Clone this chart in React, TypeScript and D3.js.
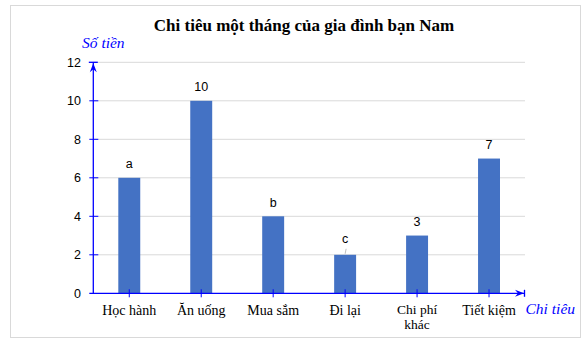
import React from "react";
import * as d3 from "d3";

const categories = ["Học hành", "Ăn uống", "Mua sắm", "Đi lại", "Chi phí khác", "Tiết kiệm"];
const values = [6, 10, 4, 2, 3, 7];
const dataLabels = ["a", "10", "b", "c", "3", "7"];
const yTicks = [0, 2, 4, 6, 8, 10, 12];
const title = "Chi tiêu một tháng của gia đình bạn Nam";
const yTitle = "Số tiền";
const xTitle = "Chi tiêu";

const W = 588, H = 346;
const left = 93.3, right = 525, top = 62.3, bottom = 293.3;
const blue = "#0000ff";

export default function App() {
  const x = d3.scaleBand<string>().domain(categories).range([left, right]).paddingInner(0).paddingOuter(0);
  const y = d3.scaleLinear().domain([0, 12]).range([bottom, top]);
  const barW = x.bandwidth() * 0.305;
  const serif = "'Liberation Serif', 'Times New Roman', serif";
  const sans = "'Liberation Sans', Arial, sans-serif";
  return (
    <svg width={W} height={H} style={{ position: "absolute", left: 0, top: 0 }}>
      <rect x={0} y={0} width={W} height={H} fill="#fff" />
      <rect x={10.5} y={5.5} width={570} height={332} fill="#fff" stroke="#d9d9d9" />
      <text x={304} y={31} textAnchor="middle" fontFamily={serif} fontWeight="bold" fontSize={17} fill="#000">{title}</text>
      {yTicks.filter(t => t > 0).map(t => (
        <line key={t} x1={left} x2={right} y1={y(t)} y2={y(t)} stroke="#d9d9d9" strokeWidth={1} />
      ))}
      {categories.map((c, i) => {
        const cx = x(c)! + x.bandwidth() / 2;
        return (
          <g key={c}>
            <rect x={cx - barW / 2} y={y(values[i])} width={barW} height={bottom - y(values[i])} fill="#4472c4" />
          </g>
        );
      })}
      {/* y axis */}
      <line x1={left} x2={left} y1={bottom} y2={top} stroke={blue} strokeWidth={1.3} />
      <line x1={left - 4.5} x2={left + 4.5} y1={top} y2={top} stroke={blue} strokeWidth={1.3} />
      <path d={`M${left},${top + 1} L${left - 3.5},${top + 10} L${left},${top + 7} L${left + 3.5},${top + 10} Z`} fill={blue} />
      {yTicks.map(t => (
        <g key={t}>
          {t > 0 && t < 12 && <line x1={left - 4} x2={left + 5} y1={y(t)} y2={y(t)} stroke={blue} strokeWidth={1} />}
          <text x={81} y={y(t) + 4.5} textAnchor="end" fontFamily={sans} fontSize={12.5} fill="#000">{t}</text>
        </g>
      ))}
      {/* x axis */}
      <line x1={left - 4} x2={right} y1={bottom} y2={bottom} stroke={blue} strokeWidth={1.3} />
      <line x1={right - 0.5} x2={right - 0.5} y1={bottom - 3.5} y2={bottom + 3.5} stroke={blue} strokeWidth={1.3} />
      <path d={`M${right - 1},${bottom} L${right - 10},${bottom - 3.5} L${right - 7},${bottom} L${right - 10},${bottom + 3.5} Z`} fill={blue} />
      {categories.map((c, i) => {
        const cx = x(c)! + x.bandwidth() / 2;
        const words = c === "Chi phí khác" ? ["Chi phí", "khác"] : [c];
        const y0 = words.length > 1 ? 313.5 : 315;
        return (
          <g key={c}>
            <line x1={cx} x2={cx} y1={bottom - 4} y2={bottom + 4} stroke={blue} strokeWidth={1} />
            {words.map((w, k) => (
              <text key={k} x={cx} y={y0 + k * 15} textAnchor="middle" fontFamily={serif} fontSize={words.length > 1 ? 13.5 : 14} fill="#000">{w}</text>
            ))}
            {dataLabels[i] === "c" && (
              <line x1={cx + 1} x2={cx} y1={y(values[i]) - 6} y2={y(values[i]) - 1} stroke="#bfbfbf" strokeWidth={1} />
            )}
            <text x={cx} y={y(values[i]) - (dataLabels[i] === "c" ? 12 : 9.5)} textAnchor="middle" fontFamily={sans} fontSize={12.5} fill="#000">{dataLabels[i]}</text>
          </g>
        );
      })}
      <text x={82} y={48} fontFamily={serif} fontStyle="italic" fontSize={15.5} fill={blue}>{yTitle}</text>
      <text x={525.5} y={313.5} fontFamily={serif} fontStyle="italic" fontSize={15.5} fill={blue}>{xTitle}</text>
    </svg>
  );
}
